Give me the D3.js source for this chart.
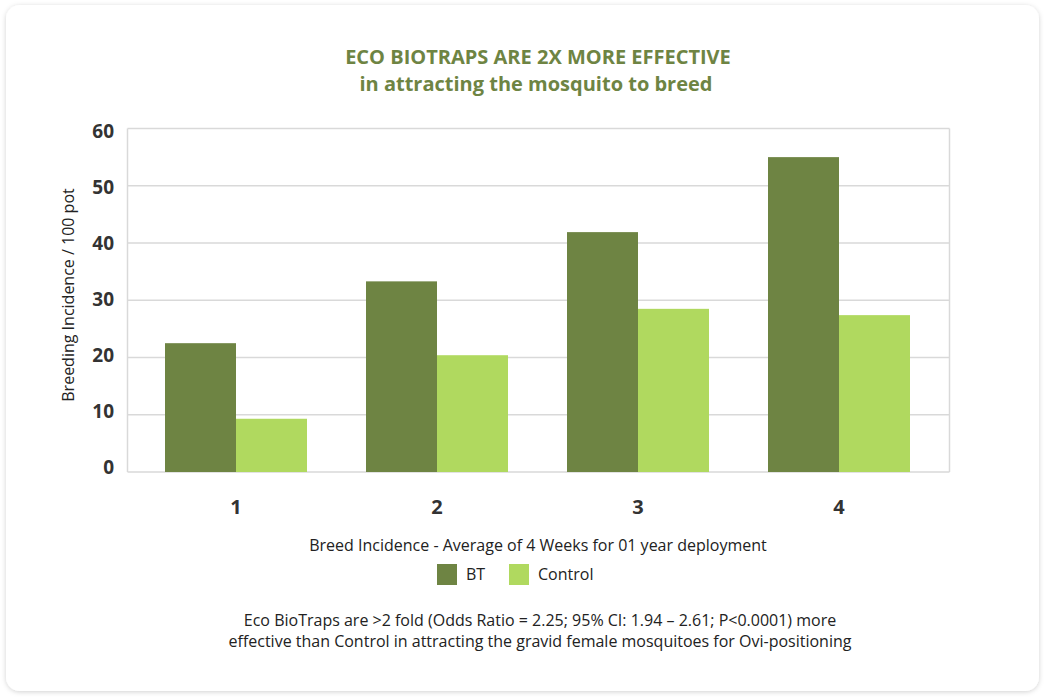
<!DOCTYPE html>
<html>
<head>
<meta charset="utf-8">
<script src="https://cdn.jsdelivr.net/npm/d3@7"></script>
<style>
  html, body { margin: 0; padding: 0; background: #fff; }
  svg { display: block; font-family: "Open Sans", sans-serif; }
</style>
</head>
<body>
<svg id="chart" width="1046" height="699"></svg>
<script>
// podatki
var weeks = ["1", "2", "3", "4"];
var seriesNames = ["BT", "Control"];
var btValues = [22.5, 33.3, 41.9, 55.0];
var controlValues = [9.3, 20.4, 28.5, 27.4];
var yTicks = [0, 10, 20, 30, 40, 50, 60];

var colors = ["#6e8443", "#b0d95f"];

var svg = d3.select("#chart");

// kartica s senco
var defs = svg.append("defs");
var f = defs.append("filter").attr("id", "shadow")
  .attr("x", "-5%").attr("y", "-5%").attr("width", "110%").attr("height", "110%");
f.append("feDropShadow")
  .attr("dx", 0).attr("dy", 1)
  .attr("stdDeviation", 2.5)
  .attr("flood-color", "#000")
  .attr("flood-opacity", 0.18);

svg.append("rect")
  .attr("x", 6).attr("y", 5)
  .attr("width", 1033).attr("height", 686)
  .attr("rx", 14).attr("ry", 14)
  .attr("fill", "#fff")
  .attr("filter", "url(#shadow)");

// naslov
var title = svg.append("text")
  .attr("text-anchor", "middle")
  .style("font-weight", "bold")
  .style("font-size", "20px")
  .style("fill", "#6e8443");
title.append("tspan").attr("x", 538).attr("y", 64).text("ECO BIOTRAPS ARE 2X MORE EFFECTIVE");
title.append("tspan").attr("x", 536).attr("y", 91).text("in attracting the mosquito to breed");

// skale
var plot = {left: 127.5, right: 949.5, top: 128.5, bottom: 472};

var yScale = d3.scaleLinear()
  .domain([0, 60])
  .range([plot.bottom, plot.top]);

// oznake osi so razporejene malo drugače kot mreža
var yLabelScale = d3.scaleLinear()
  .domain([0, 60])
  .range([467, 131]);

var xScale = d3.scaleBand()
  .domain(weeks)
  .range([135.5, 939.5])
  .paddingInner(0)
  .paddingOuter(0);

var pairWidth = 142;
var xSub = d3.scaleBand()
  .domain(seriesNames)
  .range([0, pairWidth]);

// mreža
svg.append("g")
  .selectAll("line")
  .data(yTicks)
  .enter().append("line")
    .attr("x1", plot.left)
    .attr("x2", plot.right)
    .attr("y1", d => yScale(d))
    .attr("y2", d => yScale(d))
    .attr("stroke", "#d9d9d9")
    .attr("stroke-width", 1.5);

svg.append("line")
  .attr("x1", plot.left).attr("x2", plot.left)
  .attr("y1", plot.top).attr("y2", plot.bottom)
  .attr("stroke", "#d9d9d9").attr("stroke-width", 1.5);
svg.append("line")
  .attr("x1", plot.right).attr("x2", plot.right)
  .attr("y1", plot.top).attr("y2", plot.bottom)
  .attr("stroke", "#d9d9d9").attr("stroke-width", 1.5);

// stolpci
var rows = weeks.map((w, i) => ({week: w, values: [btValues[i], controlValues[i]]}));

var groups = svg.append("g")
  .selectAll("g")
  .data(rows)
  .enter().append("g")
    .attr("transform", d => `translate(${xScale(d.week) + xScale.bandwidth() / 2 - pairWidth / 2}, 0)`);

groups.selectAll("rect")
  .data(d => d.values.map((v, j) => ({name: seriesNames[j], value: v, idx: j})))
  .enter().append("rect")
    .attr("x", d => xSub(d.name))
    .attr("y", d => yScale(d.value))
    .attr("width", xSub.bandwidth())
    .attr("height", d => yScale(0) - yScale(d.value))
    .attr("fill", d => colors[d.idx]);

// y os
var yAxis = svg.append("g")
  .attr("transform", "translate(114, 0)")
  .call(d3.axisLeft(yLabelScale).tickValues(yTicks).tickSize(0).tickPadding(0));
yAxis.select(".domain").remove();
yAxis.selectAll("text")
  .style("font-family", "Open Sans, sans-serif")
  .style("font-size", "19px")
  .style("font-weight", "bold")
  .style("fill", "#333");

// x os
var xAxis = svg.append("g")
  .attr("transform", "translate(0, 499.5)")
  .call(d3.axisBottom(xScale).tickSize(0).tickPadding(0));
xAxis.select(".domain").remove();
xAxis.selectAll("text")
  .style("font-family", "Open Sans, sans-serif")
  .style("font-size", "20px")
  .style("font-weight", "bold")
  .style("fill", "#333");

// naslova osi
svg.append("text")
  .attr("transform", "translate(74, 295) rotate(-90)")
  .attr("text-anchor", "middle")
  .style("font-size", "16px")
  .style("fill", "#222")
  .text("Breeding Incidence / 100 pot");

svg.append("text")
  .attr("x", 538).attr("y", 551)
  .attr("text-anchor", "middle")
  .style("font-size", "16px")
  .style("fill", "#222")
  .text("Breed Incidence - Average of 4 Weeks for 01 year deployment");

// legenda
var legendX = [437, 509];
var leg = svg.append("g");
leg.selectAll("rect")
  .data(seriesNames)
  .enter().append("rect")
    .attr("x", (d, i) => legendX[i])
    .attr("y", 564)
    .attr("width", 20)
    .attr("height", 21)
    .attr("fill", (d, i) => colors[i]);
leg.selectAll("text")
  .data(seriesNames)
  .enter().append("text")
    .attr("x", (d, i) => legendX[i] + 29)
    .attr("y", 580)
    .style("font-size", "16px")
    .style("fill", "#222")
    .text(d => d);

// opomba
var note = svg.append("text")
  .attr("text-anchor", "middle")
  .style("font-size", "16px")
  .style("fill", "#222");
note.append("tspan").attr("x", 540).attr("y", 626)
  .text("Eco BioTraps are >2 fold (Odds Ratio = 2.25; 95% CI: 1.94 \u2013 2.61; P<0.0001) more");
note.append("tspan").attr("x", 540).attr("y", 647)
  .text("effective than Control in attracting the gravid female mosquitoes for Ovi-positioning");
</script>
</body>
</html>
